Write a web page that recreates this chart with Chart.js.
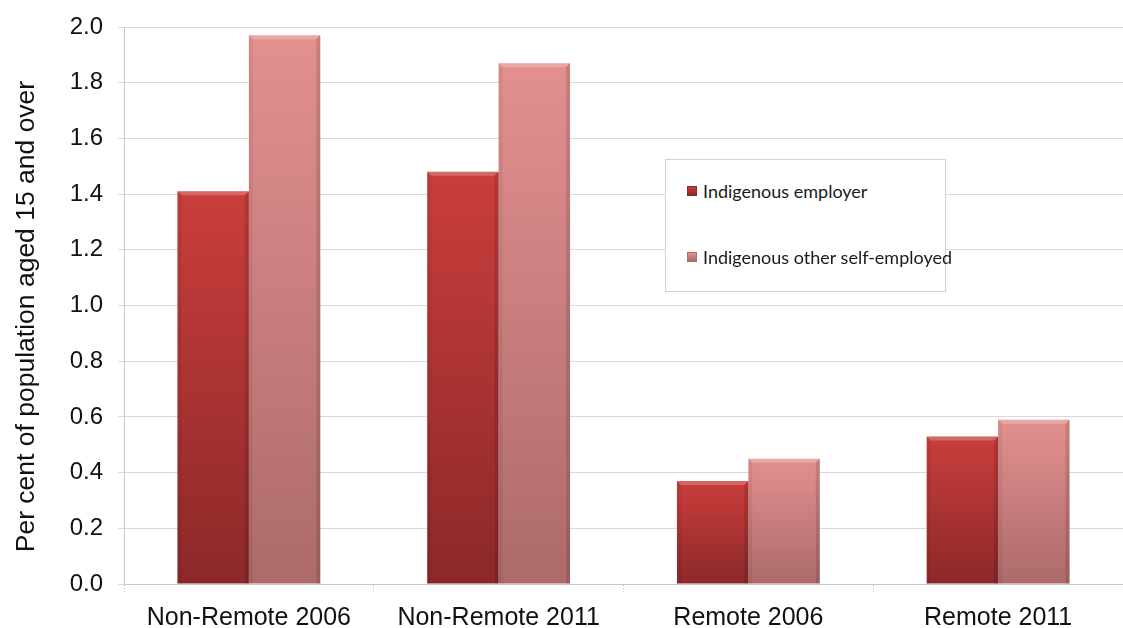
<!DOCTYPE html>
<html>
<head>
<meta charset="utf-8">
<script src="https://cdn.jsdelivr.net/npm/chart.js@4"></script>
<style>
  html, body { margin: 0; padding: 0; background: #ffffff; }
  #wrap { position: relative; width: 1123px; height: 628px; }
  #legend {
    position: absolute; left: 665px; top: 159px; width: 279px; height: 131px;
    border: 1px solid #d2d2d2; background: #ffffff;
    font-family: "Lato", "Open Sans", sans-serif; font-size: 18px; color: #1a1a1a;
  }
  #legend .item { position: absolute; left: 21px; display: flex; align-items: center; white-space: nowrap; }
  #legend .sw { width: 10px; height: 10px; margin-right: 6px; box-sizing: border-box; flex: none; }
</style>
</head>
<body>
<div id="wrap">
  <canvas id="c" width="1123" height="628"></canvas>
  <div id="legend"></div>
</div>
<script>
// Categories and series
const categories = ["Non-Remote 2006", "Non-Remote 2011", "Remote 2006", "Remote 2011"];
const seriesNames = ["Indigenous employer", "Indigenous other self-employed"];
const employerValues = [1.41, 1.48, 0.37, 0.53];
const otherSelfEmployedValues = [1.97, 1.87, 0.45, 0.59];
const yTicks = [0.0, 0.2, 0.4, 0.6, 0.8, 1.0, 1.2, 1.4, 1.6, 1.8, 2.0];
const yTitle = "Per cent of population aged 15 and over";

// Top and bottom shades for each series
const shades = [
  { top: "#c93e3c", bottom: "#8c2829" },
  { top: "#e3908f", bottom: "#ad6a6b" }
];

// Vertical gradient per bar, light at the top to dark at the base
function barGradient(ctx, i) {
  const chart = ctx.chart;
  const area = chart.chartArea;
  if (!area || ctx.type !== "data") return shades[i].top;
  const ys = chart.scales.y;
  const top = ys.getPixelForValue(ctx.raw);
  const base = ys.getPixelForValue(0);
  const g = chart.ctx.createLinearGradient(0, top, 0, base);
  g.addColorStop(0, shades[i].top);
  g.addColorStop(1, shades[i].bottom);
  return g;
}

// Bevelled edges drawn over each bar element
const bevelPlugin = {
  id: "bevel",
  afterDatasetsDraw(chart) {
    const c = chart.ctx;
    chart.data.datasets.forEach((ds, di) => {
      const meta = chart.getDatasetMeta(di);
      meta.data.forEach(el => {
        const p = el.getProps(["x", "y", "base", "width"], true);
        const l = p.x - p.width / 2, r = p.x + p.width / 2, t = p.y, b = p.base;
        const e = 4;
        c.save();
        // top highlight
        c.fillStyle = "rgba(255,255,255,0.22)";
        c.beginPath();
        c.moveTo(l, t); c.lineTo(r, t); c.lineTo(r - e, t + e); c.lineTo(l + e, t + e); c.closePath();
        c.fill();
        // left edge
        c.fillStyle = "rgba(0,0,0,0.06)";
        c.beginPath();
        c.moveTo(l, t); c.lineTo(l + e, t + e); c.lineTo(l + e, b); c.lineTo(l, b); c.closePath();
        c.fill();
        // right edge
        c.fillStyle = "rgba(0,0,0,0.12)";
        c.beginPath();
        c.moveTo(r, t); c.lineTo(r - e, t + e); c.lineTo(r - e, b); c.lineTo(r, b); c.closePath();
        c.fill();
        c.restore();
      });
    });
  }
};

const chart = new Chart(document.getElementById("c"), {
  type: "bar",
  data: {
    labels: categories,
    datasets: [
      { label: seriesNames[0], data: employerValues, backgroundColor: ctx => barGradient(ctx, 0), borderWidth: 0 },
      { label: seriesNames[1], data: otherSelfEmployedValues, backgroundColor: ctx => barGradient(ctx, 1), borderWidth: 0 }
    ]
  },
  options: {
    responsive: false,
    animation: false,
    layout: { padding: { top: 25, right: 0, bottom: 0, left: 0 } },
    datasets: { bar: { categoryPercentage: 0.572, barPercentage: 1.0 } },
    plugins: { legend: { display: false }, tooltip: { enabled: false } },
    scales: {
      x: {
        grid: {
          display: true, drawOnChartArea: false, offset: true,
          tickLength: 8, tickColor: "#c4c4c4", tickBorderDash: [1, 2], tickWidth: 1
        },
        border: { display: true, color: "#c8c8c8", width: 1 },
        ticks: { color: "#111111", padding: 11, font: { family: "Liberation Sans", size: 25 } },
        afterFit: s => { s.height = 44; }
      },
      y: {
        min: 0, max: 2.0,
        afterBuildTicks: s => { s.ticks = yTicks.map(v => ({ value: v })); },
        grid: { color: "#d9d9d9", lineWidth: 1, tickLength: 6, drawTicks: true },
        border: { display: true, color: "#c8c8c8", width: 1 },
        ticks: {
          color: "#111111", padding: 15,
          font: { family: "Liberation Sans", size: 24, lineHeight: 1.0 },
          callback: v => Number(v).toFixed(1)
        },
        title: {
          display: true, text: yTitle + "   ",
          color: "#111111", font: { family: "Liberation Sans", size: 26.5 },
          padding: { top: 11, bottom: 0 }
        },
        afterFit: s => { s.width = 124; }
      }
    }
  },
  plugins: [bevelPlugin]
});

// Legend box built from the dataset labels
const legend = document.getElementById("legend");
const itemTops = [20, 86];
chart.data.datasets.forEach((ds, i) => {
  const item = document.createElement("div");
  item.className = "item";
  item.style.top = itemTops[i] + "px";
  const sw = document.createElement("span");
  sw.className = "sw";
  sw.style.background = "linear-gradient(" + shades[i].top + "," + shades[i].bottom + ")";
  sw.style.border = "1px solid " + shades[i].bottom;
  const tx = document.createElement("span");
  tx.textContent = ds.label;
  item.appendChild(sw);
  item.appendChild(tx);
  legend.appendChild(item);
});
</script>
</body>
</html>
